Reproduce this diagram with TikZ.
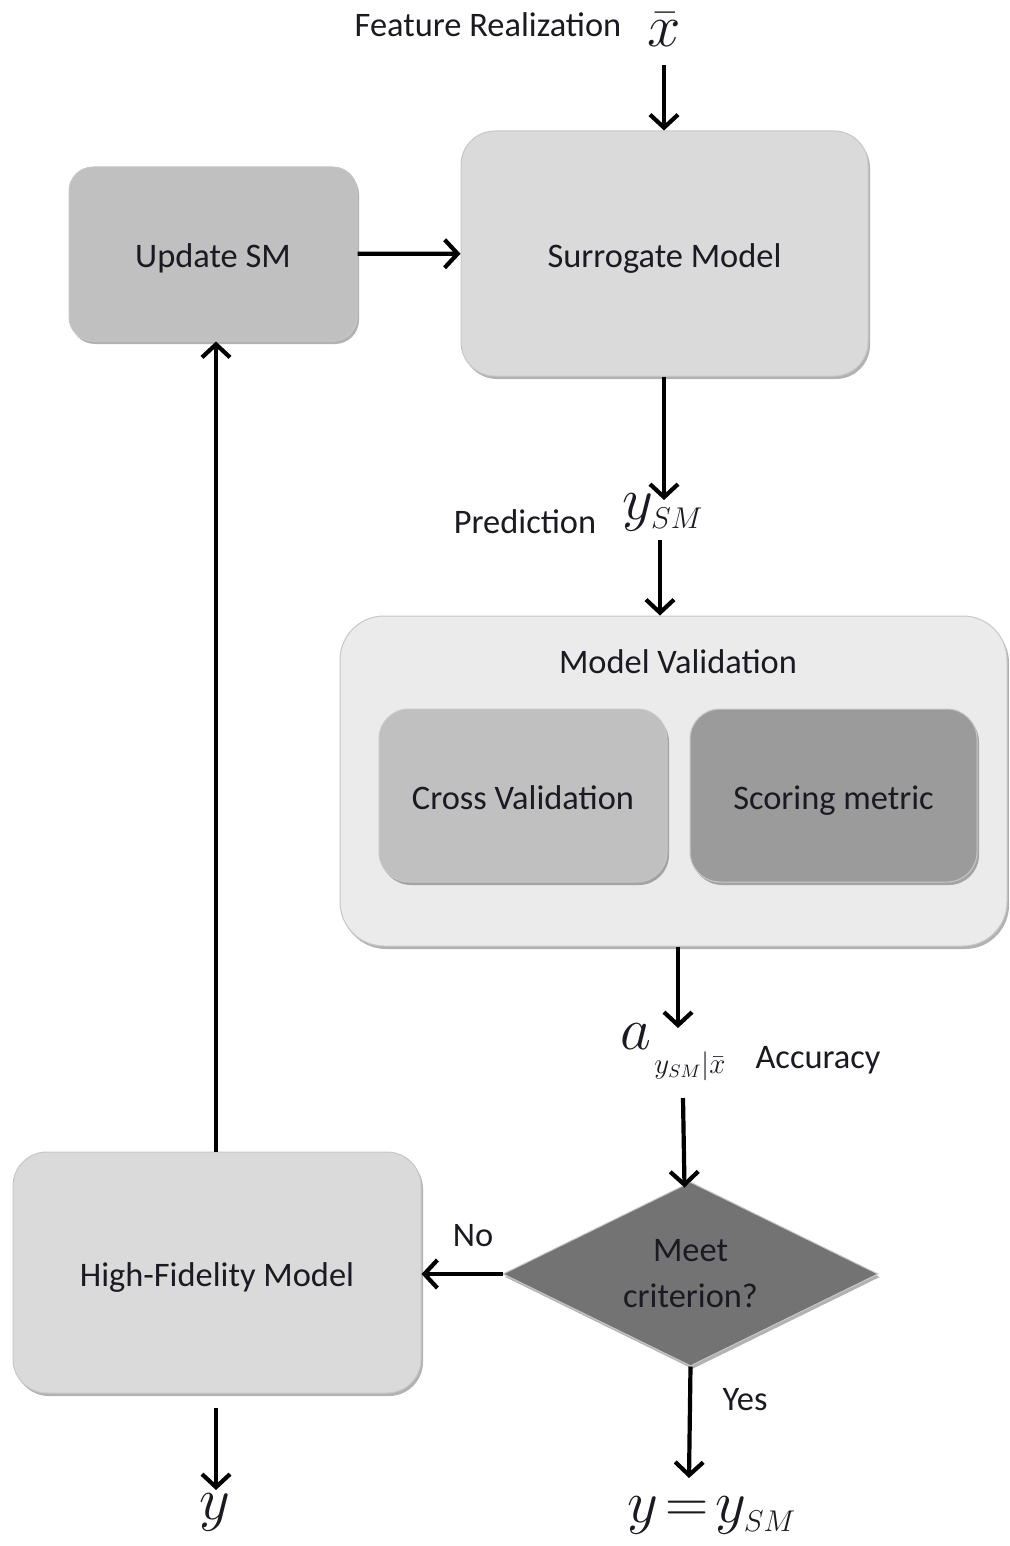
\RequirePackage{fix-cm}
\documentclass[tikz,border=0pt]{standalone}
\usepackage{fontspec}
\setmainfont{Carlito}
\usetikzlibrary{shapes.geometric,arrows.meta,shadows,calc}
% math sizes used by the large symbols and their indices
\DeclareMathSizes{30}{30}{15}{10}
\DeclareMathSizes{14.5}{14.5}{9}{7}
\definecolor{gLight}{HTML}{DADADA}
\definecolor{gPale}{HTML}{EBEBEB}
\definecolor{gMid}{HTML}{C0C0C0}
\definecolor{gDark}{HTML}{9B9B9B}
\definecolor{gDeep}{HTML}{737373}
\definecolor{txt}{HTML}{1A1A22}
\begin{document}
\begin{tikzpicture}[x=0.5pt,y=-0.5pt,
  panel/.style={rectangle, draw=black!22, line width=0.5pt, inner sep=0pt,
    text=txt, font=\fontsize{17.2}{20}\selectfont,
    text height=17pt, text depth=3pt,
    drop shadow={shadow xshift=1pt, shadow yshift=-1.5pt, opacity=0.3, fill=black}},
  lbl/.style={inner sep=0pt, text=txt, font=\fontsize{17.2}{20}\selectfont},
  sym/.style={inner sep=0pt, text=txt, font=\fontsize{30}{30}\selectfont},
  symsmall/.style={inner sep=0pt, text=txt, font=\fontsize{14.5}{14.5}\selectfont},
  arr/.style={line width=2.1pt, -{Straight Barb[length=6.5pt,width=14pt]}}]
\useasboundingbox (0,0) rectangle (1009,1546);

% boxes
\node[panel, fill=gLight, minimum width=203.5pt, minimum height=122.5pt,
  rounded corners=17pt] (sm) at (664.5,253.5) {Surrogate Model};
\node[panel, fill=gMid, minimum width=144pt, minimum height=87pt,
  rounded corners=12pt] (us) at (213,254) {Update SM};
\node[panel, fill=gPale, minimum width=333.5pt, minimum height=165pt,
  rounded corners=22pt] (mv) at (673.5,781) {};
\node[lbl] (mvt) at (678,662) {Model Validation};
\node[panel, fill=gMid, minimum width=144pt, minimum height=86.5pt,
  rounded corners=15pt] (cv) at (523,795.5) {Cross Validation};
\node[panel, fill=gDark, minimum width=143.5pt, minimum height=86.5pt,
  rounded corners=15pt] (sc) at (833.5,795.5) {Scoring metric};
\node[panel, fill=gDeep, diamond, aspect=2, minimum width=187.5pt,
  minimum height=92pt, align=center, text height=, text depth=]
  (dm) at (690.5,1274) {Meet\\[3pt]criterion?};
\node[panel, fill=gLight, minimum width=204pt, minimum height=120.5pt,
  rounded corners=17pt] (hf) at (217,1272.5) {High-Fidelity Model};

% labels and symbols
\node[lbl] (fr) at (488,25) {Feature Realization};
\node[sym] (xb) at (664,30) {$\bar{x}$};
\node[lbl] (pr) at (525,522) {Prediction};
\node[sym] (ysm) at (663,512) {$y_{SM}$};
\node[sym] (acca) at (636,1037) {$a$};
\node[symsmall] (accs) at (690,1066) {$y_{SM}|\bar{x}$};
\node[lbl] (acc) at (818,1060) {Accuracy};
\node[lbl] (no) at (473,1236) {No};
\node[lbl] (yes) at (745,1400) {Yes};
\node[sym] (yhf) at (215,1512) {$y$};
\node[sym] (yeq) at (712,1515) {$y\!=\!y_{SM}$};

% connector end points
\coordinate (c0) at (664,65);
\coordinate (c1) at (664,500);
\coordinate (c2) at (660,540);
\coordinate (c3) at (678,1028);
\coordinate (c4) at (683,1098);
\coordinate (c5) at (689,1478);
\coordinate (c6) at (216,1408);
\coordinate (c7) at (216,1490);

% connectors
\draw[arr] (c0) -- (c0 |- sm.north);
\draw[arr] (us) -- (sm);
\draw[arr] (c1 |- sm.south) -- (c1);
\draw[arr] (c2) -- (c2 |- mv.north);
\draw[arr] (c3 |- mv.south) -- (c3);
\draw[arr] (c4) -- ($(dm.north)+(-6,6)$);
\draw[arr] (dm.west) -- (dm.west -| hf.east);
\draw[arr] (dm.south) -- (c5);
\draw[arr] (c6 |- hf.north) -- (c6 |- us.south);
\draw[arr] (c6) -- (c7);
\end{tikzpicture}
\end{document}
